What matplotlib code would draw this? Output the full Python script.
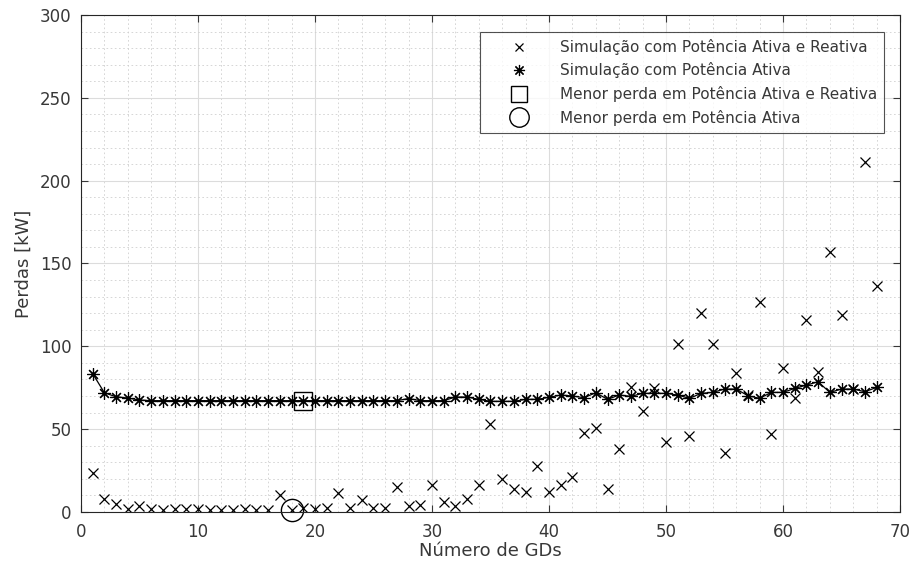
import matplotlib
matplotlib.use("Agg")
import matplotlib.pyplot as plt
from matplotlib.ticker import MultipleLocator

# Numero de GDs
n_gds = list(range(1, 69))

# Perdas [kW] - simulacao com potencia ativa e reativa
perdas_pq = [
    23.3, 7.6, 4.8, 2.0, 3.8, 2.0, 1.2, 1.8, 1.8, 2.0,
    1.2, 1.2, 1.2, 1.8, 1.2, 1.2, 10.3, 1.0, 2.2, 1.8,
    2.4, 11.3, 2.4, 7.2, 2.4, 2.4, 15.3, 3.4, 4.2, 16.3,
    6.2, 3.6, 7.8, 16.3, 53.1, 19.7, 13.7, 12.3, 27.8, 12.1,
    16.3, 21.3, 47.5, 50.5, 13.7, 38.0, 75.6, 61.0, 74.6, 42.4,
    101.4, 46.0, 120.0, 101.4, 35.8, 83.7, 70.5, 126.5, 47.0, 87.0,
    68.6, 115.9, 84.7, 157.0, 118.9, 74.0, 211.4, 136.4,
]

# Perdas [kW] - simulacao com potencia ativa
perdas_p = [
    83.5, 72.0, 69.5, 68.8, 67.6, 67.2, 67.2, 67.2, 67.2, 67.2,
    67.2, 67.2, 67.2, 67.2, 67.2, 67.2, 67.2, 67.2, 67.2, 67.2,
    67.2, 67.2, 67.2, 67.2, 67.2, 67.2, 67.2, 68.5, 67.2, 67.2,
    67.2, 69.4, 69.4, 68.0, 66.8, 66.8, 66.8, 68.0, 68.0, 69.2,
    70.6, 70.0, 69.0, 72.0, 68.0, 70.6, 69.8, 71.6, 71.6, 71.6,
    70.6, 68.6, 71.6, 72.2, 74.2, 74.2, 70.2, 68.6, 72.2, 72.2,
    74.6, 76.6, 78.6, 72.2, 74.2, 74.2, 72.6, 75.2,
]

# menores perdas
min_pq = (19, 67.2)
min_p = (18, 1.0)


def run():
    plt.rcParams["font.family"] = ["DejaVu Sans"]
    text_color = "#383838"
    asterisk = (8, 2, 0)  # '*' estilo MATLAB (+ e x sobrepostos)

    fig = plt.figure(figsize=(9.14, 5.72), dpi=100)
    ax = fig.add_axes([0.0886, 0.1049, 0.8961, 0.8689])

    ax.plot(n_gds, perdas_pq, "x", color="black", markersize=7, mew=0.9,
            label="Simulação com Potência Ativa e Reativa")
    # linha ligando os pontos (sem legenda)
    ax.plot(n_gds, perdas_p, "-", color="black", lw=0.9)
    ax.plot(n_gds, perdas_p, ls="none", marker=asterisk, color="black",
            markersize=9, mew=0.85, label="Simulação com Potência Ativa")
    ax.plot(min_pq[0], min_pq[1], "s", mfc="none", mec="black",
            markersize=13, mew=1.0, label="Menor perda em Potência Ativa e Reativa")
    ax.plot(min_p[0], min_p[1], "o", mfc="none", mec="black",
            markersize=16, mew=1.0, label="Menor perda em Potência Ativa", clip_on=False)

    ax.set_xlim(0, 70)
    ax.set_ylim(0, 300)
    ax.xaxis.set_major_locator(MultipleLocator(10))
    ax.xaxis.set_minor_locator(MultipleLocator(2))
    ax.yaxis.set_major_locator(MultipleLocator(50))
    ax.yaxis.set_minor_locator(MultipleLocator(10))

    ax.grid(which="major", color="#dcdcdc", lw=0.8, ls="-")
    ax.grid(which="minor", color="#d0d0d0", lw=0.6, ls=(0, (2, 3)))
    ax.set_axisbelow(True)

    ax.tick_params(which="major", direction="in", length=5, top=True, right=True,
                   labelsize=12, colors=text_color, width=0.8)
    ax.tick_params(axis="x", which="major", pad=8)
    ax.tick_params(axis="y", which="major", pad=7)
    ax.tick_params(which="minor", length=0, top=True, right=True)
    for s in ax.spines.values():
        s.set_color("#262626")
        s.set_linewidth(0.8)

    ax.set_xlabel("Número de GDs", fontsize=13, color=text_color, labelpad=1)
    ax.set_ylabel("Perdas [kW]", fontsize=13, color=text_color, labelpad=5)

    leg = ax.legend(loc="upper right", bbox_to_anchor=(0.9805, 0.9658),
                    borderaxespad=0, fontsize=11,
                    frameon=True, fancybox=False, edgecolor="#262626",
                    handletextpad=0.6, borderpad=0.45, labelspacing=0.5,
                    handlelength=4.2)
    leg.get_frame().set_linewidth(0.8)
    for t in leg.get_texts():
        t.set_color(text_color)
    for h, ms in zip(leg.legend_handles, [6, 8, 11, 14]):
        h.set_markersize(ms)

    plt.savefig("out.png", dpi=100)


if __name__ == "__main__":
    run()
